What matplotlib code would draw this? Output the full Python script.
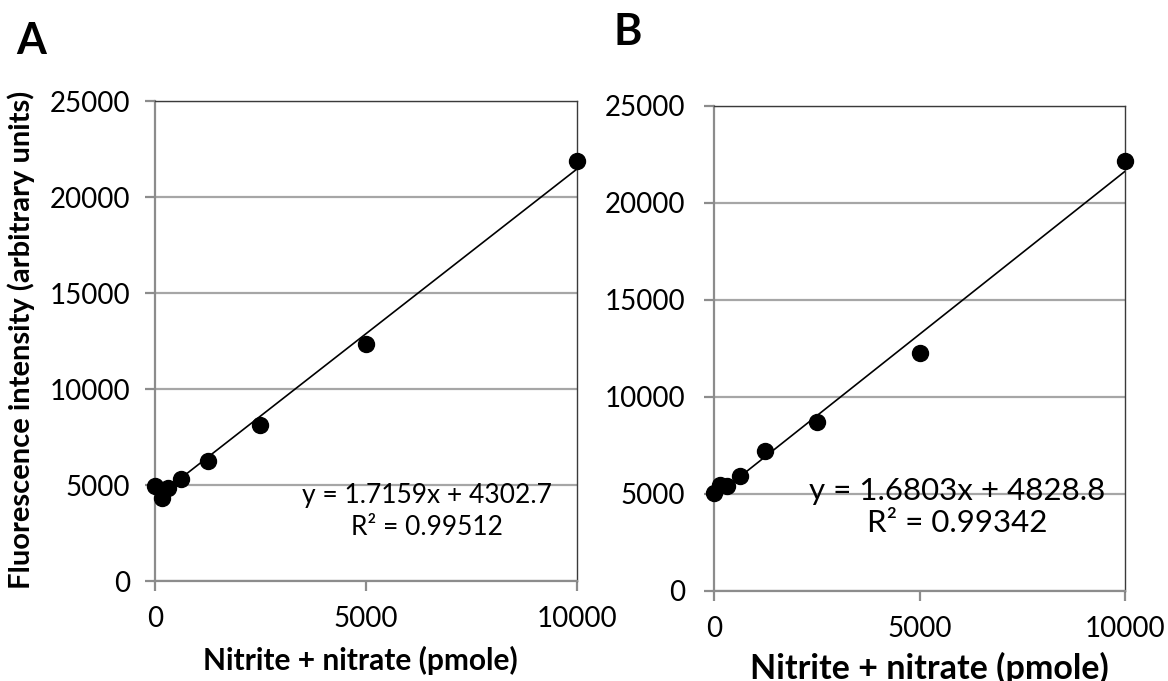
import numpy as np
import matplotlib
matplotlib.use("Agg")
import matplotlib.pyplot as plt

plt.rcParams['font.family'] = ['Lato', 'DejaVu Sans']

# nitrite + nitrate standards (pmole)
amounts = [0, 156.25, 312.5, 625, 1250, 2500, 5000, 10000]

# fluorescence readings
fluor_a = [4960, 4330, 4860, 5320, 6260, 8150, 12330, 21870]
fluor_b = [5050, 5460, 5410, 5930, 7220, 8710, 12270, 22170]

# trendline parameters as printed on the chart
slope_a, icpt_a, r2_a = 1.7159, 4302.7, 0.99512
slope_b, icpt_b, r2_b = 1.6803, 4828.8, 0.99342

x_ticks = [0, 5000, 10000]
y_ticks = [0, 5000, 10000, 15000, 20000, 25000]

fig = plt.figure(figsize=(11.68, 6.81), dpi=100)
axA = fig.add_axes([0.1327, 0.1468, 0.3613, 0.7048])
axB = fig.add_axes([0.6113, 0.1322, 0.3519, 0.7122])

# ax, data, slope, intercept, r2, eq pos, r2 pos, tick size, eq size, label size
panels = [
    (axA, fluor_a, slope_a, icpt_a, r2_a, (0.645, 0.179), (0.645, 0.112), 20, 19, 21.5),
    (axB, fluor_b, slope_b, icpt_b, r2_b, (0.591, 0.206), (0.591, 0.140), 20, 22.5, 24.5),
]

for ax, fl, m, c, r2, eq_pos, r2_pos, tsz, esz, lsz in panels:
    ax.set_xlim(0, 10000)
    ax.set_ylim(0, 25000)
    ax.set_xticks(x_ticks)
    ax.set_yticks(y_ticks)
    ax.yaxis.grid(True, color='#a6a6a6', linewidth=1.6)
    ax.set_axisbelow(True)

    xs = np.array([0, 10000])
    ax.plot(xs, m * xs + c, color='black', linewidth=1.2, zorder=3)
    ax.plot(amounts, fl, 'o', color='black', markersize=11.5,
            clip_on=False, zorder=4)

    for s in ['top', 'right']:
        ax.spines[s].set_color('#3a3a3a')
        ax.spines[s].set_linewidth(1.0)
    for s in ['left', 'bottom']:
        ax.spines[s].set_color('#8c8c8c')
        ax.spines[s].set_linewidth(1.6)
    ax.tick_params(direction='out', length=7, width=1.6, color='#8c8c8c',
                   labelsize=tsz, pad=11)

    ax.text(eq_pos[0], eq_pos[1], f'y = {m}x + {c}', transform=ax.transAxes,
            ha='center', va='center', fontsize=esz)
    ax.text(r2_pos[0], r2_pos[1], f'R² = {r2}', transform=ax.transAxes,
            ha='center', va='center', fontsize=esz)

    ax.set_xlabel('Nitrite + nitrate (pmole)', fontsize=lsz, fontweight='bold')

axB.tick_params(axis='y', pad=14)
axA.xaxis.set_label_coords(0.486, -0.135)
axB.xaxis.set_label_coords(0.525, -0.125)
axA.set_ylabel('Fluorescence intensity (arbitrary units)', fontsize=21,
               fontweight='bold')
axA.yaxis.set_label_coords(-0.285, 0.502)

fig.text(31 / 1168, 1 - 41 / 681, 'A', fontsize=31, fontweight='bold',
         ha='center', va='center')
fig.text(628 / 1168, 1 - 32 / 681, 'B', fontsize=31, fontweight='bold',
         ha='center', va='center')

fig.savefig('out.png', dpi=100)
